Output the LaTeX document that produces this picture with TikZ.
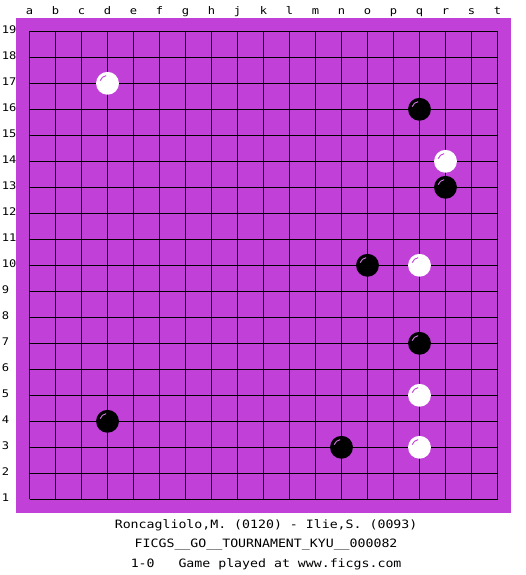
\documentclass[tikz,border=0pt]{standalone}
\usepackage{fontspec}
\setmonofont[FakeStretch=1.15]{DejaVu Sans Mono}
\usetikzlibrary{calc}
\definecolor{boardpurple}{RGB}{192,64,216}
\tikzset{
  blackstone/.style={fill=black},
  whitestone/.style={fill=white},
  blackshine/.style={draw=boardpurple!70!white,line width=0.9pt},
  whiteshine/.style={draw=boardpurple,line width=0.9pt},
  coordlabel/.style={font=\ttfamily\fontsize{10.5}{11}\selectfont,inner sep=0pt},
  caption/.style={font=\ttfamily\fontsize{11.5}{12}\selectfont,inner sep=0pt,anchor=base}
}
\newcommand{\shine}[3]{\draw[#1] ($(#2,#3)+(100:0.3)$) arc (100:160:0.3);}

\begin{document}
\begin{tikzpicture}[x=26pt,y=26pt]
\useasboundingbox (-1.135,-2.912) rectangle (19.058,19.204);
\fill[boardpurple] (-0.52,-0.52) rectangle (18.52,18.52);
\draw[black,line width=1pt,step=1] (0,0) grid (18,18);
\foreach \c [count=\i from 0] in {a,b,c,d,e,f,g,h,j,k,l,m,n,o,p,q,r,s,t}
  \node[coordlabel,anchor=base] (col-\c) at (\i,18.665) {\c};
\foreach \r [evaluate=\r as \y using \r-1.07] in {1,...,19}
  \node[coordlabel,anchor=base west] (row-\r) at (-1.07,\y) {\r};
\fill[whitestone] (3,16) circle (0.44); \shine{whiteshine}{3}{16}
\fill[blackstone] (15,15) circle (0.44); \shine{blackshine}{15}{15}
\fill[whitestone] (16,13) circle (0.44); \shine{whiteshine}{16}{13}
\fill[blackstone] (16,12) circle (0.44); \shine{blackshine}{16}{12}
\fill[blackstone] (13,9) circle (0.44); \shine{blackshine}{13}{9}
\fill[whitestone] (15,9) circle (0.44); \shine{whiteshine}{15}{9}
\fill[blackstone] (15,6) circle (0.44); \shine{blackshine}{15}{6}
\fill[whitestone] (15,4) circle (0.44); \shine{whiteshine}{15}{4}
\fill[blackstone] (3,3) circle (0.44); \shine{blackshine}{3}{3}
\fill[blackstone] (12,2) circle (0.44); \shine{blackshine}{12}{2}
\fill[whitestone] (15,2) circle (0.44); \shine{whiteshine}{15}{2}
\node[caption] (players) at (9.1,-1.142) {Roncagliolo,M. (0120) - Ilie,S. (0093)};
\node[caption] (event) at (9.1,-1.873) {FICGS\_\_GO\_\_TOURNAMENT\_KYU\_\_000082};
\node[caption] (result) at (9.1,-2.631) {1-0\ \ \ Game played at www.ficgs.com};
\end{tikzpicture}
\end{document}
